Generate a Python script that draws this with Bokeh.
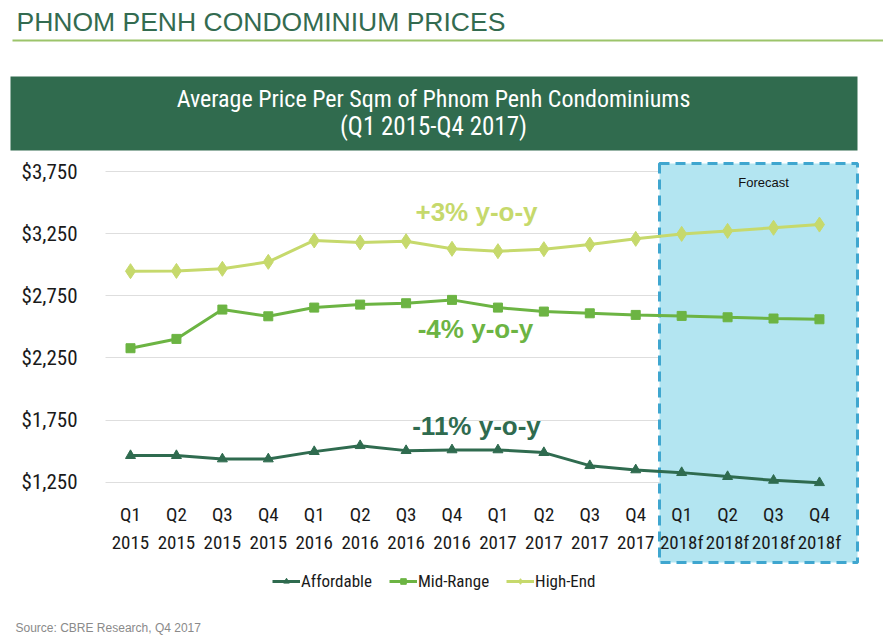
from bokeh.plotting import figure
from bokeh.models import (Range1d, FixedTicker, BoxAnnotation, Label, Legend, LegendItem,
                          ColumnDataSource)
from bokeh.embed import file_html
from bokeh.resources import INLINE

# ---------------- data ----------------
quarters = ["Q1\n2015", "Q2\n2015", "Q3\n2015", "Q4\n2015",
            "Q1\n2016", "Q2\n2016", "Q3\n2016", "Q4\n2016",
            "Q1\n2017", "Q2\n2017", "Q3\n2017", "Q4\n2017",
            "Q1\n2018f", "Q2\n2018f", "Q3\n2018f", "Q4\n2018f"]
affordable = [1464, 1464, 1437, 1437, 1496, 1544, 1504, 1510,
              1510, 1488, 1383, 1349, 1327, 1295, 1265, 1246]
mid_range = [2328, 2403, 2639, 2585, 2655, 2679, 2690, 2717,
             2655, 2623, 2609, 2596, 2588, 2577, 2567, 2561]
high_end = [2948, 2950, 2967, 3023, 3195, 3179, 3189, 3128,
            3109, 3125, 3162, 3208, 3248, 3272, 3297, 3323]
y_ticks = [1250, 1750, 2250, 2750, 3250, 3750]
y_tick_labels = ["$1,250", "$1,750", "$2,250", "$2,750", "$3,250", "$3,750"]
yoy_labels = ["+3% y-o-y", "-4% y-o-y", "-11% y-o-y"]

# ---------------- layout (canvas pixels -> data) ----------------
W, H = 883, 638
PX0, PXS = 130.0, 45.93          # pixel of first quarter, pixels per quarter
PY_TOP_TICK, PX_PER_500 = 171.0, 62.14
X0, X1 = -PX0 / PXS, (W - PX0) / PXS
Y1 = 3750 + PY_TOP_TICK * 500 / PX_PER_500
Y0 = 3750 - (H - PY_TOP_TICK) * 500 / PX_PER_500


def dx(px):
    return X0 + px * (X1 - X0) / W


def dy(py):
    return Y1 - py * (Y1 - Y0) / H


C_AFF = "#2f6b4f"
C_MID = "#6cb443"
C_HIGH = "#c6d96c"
C_DARK = "#306b4e"
SANS = "Liberation Sans"
COND = "Roboto Condensed"

x = list(range(len(quarters)))

p = figure(width=W, height=H, output_backend="svg", toolbar_location=None, title=None,
           x_range=Range1d(X0, X1), y_range=Range1d(Y0, Y1),
           min_border=0, min_border_left=0, min_border_right=0,
           min_border_top=0, min_border_bottom=0)
p.outline_line_color = None
p.background_fill_color = "white"
p.border_fill_color = "white"

# grid
p.xgrid.grid_line_color = None
gprops = p.ygrid[0].properties()
if "cross_bounds" in gprops:
    p.ygrid.ticker = FixedTicker(ticks=y_ticks)
    p.ygrid.cross_bounds = (dx(105), dx(857))
    p.ygrid.grid_line_color = "#dedede"
    p.ygrid.grid_line_width = 1
else:
    p.ygrid.grid_line_color = None
    p.segment(x0=dx(105), x1=dx(857), y0=y_ticks, y1=y_ticks, line_color="#dedede",
              line_width=1, level="underlay")

# axes (fixed inside the canvas)
p.yaxis.fixed_location = dx(105)
p.yaxis.ticker = FixedTicker(ticks=y_ticks)
p.yaxis.major_label_overrides = {t: l for t, l in zip(y_ticks, y_tick_labels)}
p.yaxis.axis_line_color = None
p.yaxis.major_tick_line_color = None
p.yaxis.minor_tick_line_color = None
p.yaxis.major_label_standoff = 22
p.yaxis.major_label_text_font = COND
p.yaxis.major_label_text_font_size = "21px"
p.yaxis.major_label_text_color = "#1a1a1a"

p.xaxis.fixed_location = dy(490)
p.xaxis.ticker = FixedTicker(ticks=x)
p.xaxis.major_label_overrides = {i: q for i, q in zip(x, quarters)}
p.xaxis.axis_line_color = None
p.xaxis.major_tick_line_color = None
p.xaxis.minor_tick_line_color = None
p.xaxis.major_label_standoff = 6
p.xaxis.major_label_text_font = COND
p.xaxis.major_label_text_font_size = "19px"
p.xaxis.major_label_text_line_height = 1.25
p.xaxis.major_label_text_color = "#1a1a1a"

# forecast box
box = BoxAnnotation(left=dx(659), right=dx(857), top=dy(163), bottom=dy(562),
                    fill_color="#b3e5f1", fill_alpha=1.0,
                    line_color="#3fa6cf", line_alpha=1.0, line_width=3, line_dash="10 6",
                    level="underlay")
p.add_layout(box)
p.add_layout(Label(x=dx(763), y=dy(182), text="Forecast",
                   text_font=SANS, text_font_size="13px", text_color="#111111",
                   text_align="center", text_baseline="middle"))

# header
p.add_layout(Label(x=dx(16), y=dy(21), text="PHNOM PENH CONDOMINIUM PRICES",
                   text_font=SANS, text_font_size="26.5px", text_color="#336b50",
                   text_align="left", text_baseline="middle"))
p.add_layout(BoxAnnotation(left=dx(12), right=dx(890), top=dy(39), bottom=dy(41),
                           fill_color="#9cc46a", fill_alpha=1.0, line_color=None))
p.add_layout(BoxAnnotation(left=dx(10), right=dx(857), top=dy(76), bottom=dy(150),
                           fill_color=C_DARK, fill_alpha=1.0, line_color=None))
p.add_layout(Label(x=dx(433), y=dy(98), text="Average Price Per Sqm of Phnom Penh Condominiums",
                   text_font=COND, text_font_size="24px", text_color="white",
                   text_align="center", text_baseline="middle"))
p.add_layout(Label(x=dx(433), y=dy(126), text="(Q1 2015-Q4 2017)",
                   text_font=COND, text_font_size="25px", text_color="white",
                   text_align="center", text_baseline="middle"))

# series
src = ColumnDataSource(dict(x=x, aff=affordable, mid=mid_range, high=high_end))
l1 = p.line("x", "aff", source=src, line_color=C_AFF, line_width=3)
m1 = p.scatter("x", "aff", source=src, marker="triangle", size=10,
               fill_color=C_AFF, line_color=C_AFF)
l2 = p.line("x", "mid", source=src, line_color=C_MID, line_width=3)
m2 = p.scatter("x", "mid", source=src, marker="square", size=9,
               fill_color=C_MID, line_color=C_MID)
l3 = p.line("x", "high", source=src, line_color=C_HIGH, line_width=3)
m3 = p.scatter("x", "high", source=src, marker="diamond", size=15,
               fill_color=C_HIGH, line_color=C_HIGH)

# y-o-y annotations
for txt, col, px, py in [(yoy_labels[0], C_HIGH, 476, 211),
                         (yoy_labels[1], C_MID, 475, 328),
                         (yoy_labels[2], C_AFF, 476, 425)]:
    p.add_layout(Label(x=dx(px), y=dy(py), text=txt, text_font=SANS, text_font_style="bold",
                       text_font_size="26px", text_color=col,
                       text_align="center", text_baseline="middle"))

# legend
legend = Legend(items=[LegendItem(label="Affordable", renderers=[l1, m1]),
                       LegendItem(label="Mid-Range", renderers=[l2, m2]),
                       LegendItem(label="High-End", renderers=[l3, m3])],
                orientation="horizontal", location=(272, 47),
                label_text_font=COND, label_text_font_size="17px",
                label_text_color="#1a1a1a", glyph_width=28, glyph_height=14,
                label_standoff=1, spacing=17, padding=0, margin=0,
                background_fill_alpha=0, border_line_color=None)
p.add_layout(legend)

# source
p.add_layout(Label(x=dx(15), y=dy(627), text="Source: CBRE Research, Q4 2017",
                   text_font=SANS, text_font_size="12px", text_color="#8a8a8a",
                   text_align="left", text_baseline="middle"))

open("out.html", "w").write(file_html(p, INLINE))
